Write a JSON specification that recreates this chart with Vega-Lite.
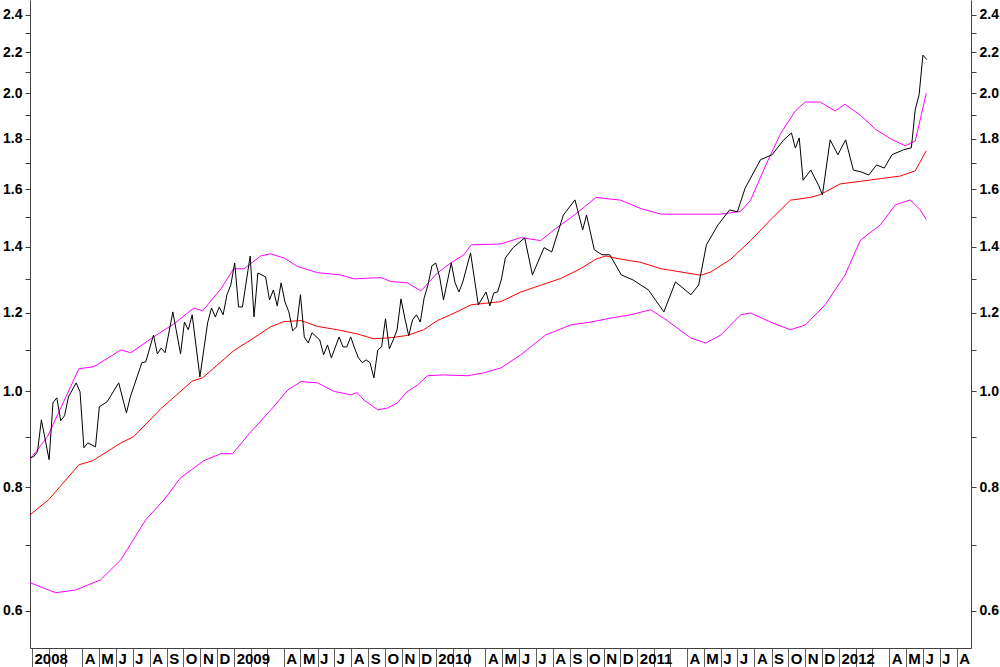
{
"$schema": "https://vega.github.io/schema/vega-lite/v6.json",
"width": 941, "height": 648,
"autosize": "none",
"padding": {"left": 30, "top": 0, "right": 29, "bottom": 19},
"background": "#ffffff",
"config": {"view": {"stroke": null}, "axis": {"grid": false, "title": null, "labelFont": "Liberation Sans", "labelFontWeight": "bold", "labelColor": "#000000", "domainColor": "#404040", "tickColor": "#404040"}},
"datasets": {
"bands": [
{"d":"2007-12-28","s":"up","v":0.853},{"d":"2008-01-29","s":"up","v":0.900},{"d":"2008-02-22","s":"up","v":0.962},{"d":"2008-03-26","s":"up","v":1.054},{"d":"2008-04-22","s":"up","v":1.059},{"d":"2008-06-10","s":"up","v":1.101},{"d":"2008-06-28","s":"up","v":1.094},{"d":"2008-08-08","s":"up","v":1.135},{"d":"2008-09-14","s":"up","v":1.170},{"d":"2008-10-20","s":"up","v":1.214},{"d":"2008-11-05","s":"up","v":1.206},{"d":"2008-12-08","s":"up","v":1.269},{"d":"2008-12-31","s":"up","v":1.330},{"d":"2009-01-19","s":"up","v":1.330},{"d":"2009-02-18","s":"up","v":1.370},{"d":"2009-03-08","s":"up","v":1.377},{"d":"2009-04-01","s":"up","v":1.364},{"d":"2009-04-26","s":"up","v":1.337},{"d":"2009-06-01","s":"up","v":1.318},{"d":"2009-07-13","s":"up","v":1.311},{"d":"2009-08-06","s":"up","v":1.299},{"d":"2009-09-24","s":"up","v":1.303},{"d":"2009-10-12","s":"up","v":1.291},{"d":"2009-11-11","s":"up","v":1.287},{"d":"2009-12-05","s":"up","v":1.263},{"d":"2010-01-04","s":"up","v":1.317},{"d":"2010-01-28","s":"up","v":1.348},{"d":"2010-02-21","s":"up","v":1.374},{"d":"2010-03-06","s":"up","v":1.406},{"d":"2010-04-29","s":"up","v":1.409},{"d":"2010-06-04","s":"up","v":1.43},{"d":"2010-07-10","s":"up","v":1.42},{"d":"2010-08-06","s":"up","v":1.46},{"d":"2010-09-11","s":"up","v":1.51},{"d":"2010-10-18","s":"up","v":1.57},{"d":"2010-12-02","s":"up","v":1.56},{"d":"2011-01-07","s":"up","v":1.53},{"d":"2011-02-13","s":"up","v":1.51},{"d":"2011-03-21","s":"up","v":1.51},{"d":"2011-04-26","s":"up","v":1.51},{"d":"2011-06-01","s":"up","v":1.51},{"d":"2011-07-07","s":"up","v":1.52},{"d":"2011-07-25","s":"up","v":1.56},{"d":"2011-08-21","s":"up","v":1.69},{"d":"2011-09-17","s":"up","v":1.82},{"d":"2011-10-14","s":"up","v":1.92},{"d":"2011-11-01","s":"up","v":1.96},{"d":"2011-11-28","s":"up","v":1.96},{"d":"2011-12-25","s":"up","v":1.92},{"d":"2012-01-12","s":"up","v":1.95},{"d":"2012-02-09","s":"up","v":1.90},{"d":"2012-03-07","s":"up","v":1.84},{"d":"2012-04-03","s":"up","v":1.80},{"d":"2012-04-30","s":"up","v":1.77},{"d":"2012-05-18","s":"up","v":1.79},{"d":"2012-06-07","s":"up","v":2.0},
{"d":"2007-12-28","s":"ma","v":0.750},{"d":"2008-01-31","s":"ma","v":0.777},{"d":"2008-03-26","s":"ma","v":0.843},{"d":"2008-04-20","s":"ma","v":0.851},{"d":"2008-06-10","s":"ma","v":0.887},{"d":"2008-07-03","s":"ma","v":0.900},{"d":"2008-08-21","s":"ma","v":0.960},{"d":"2008-10-17","s":"ma","v":1.024},{"d":"2008-11-05","s":"ma","v":1.032},{"d":"2008-12-31","s":"ma","v":1.099},{"d":"2009-01-31","s":"ma","v":1.127},{"d":"2009-03-08","s":"ma","v":1.162},{"d":"2009-04-01","s":"ma","v":1.176},{"d":"2009-05-02","s":"ma","v":1.179},{"d":"2009-06-01","s":"ma","v":1.163},{"d":"2009-07-07","s":"ma","v":1.154},{"d":"2009-08-12","s":"ma","v":1.143},{"d":"2009-09-11","s":"ma","v":1.130},{"d":"2009-10-12","s":"ma","v":1.133},{"d":"2009-11-11","s":"ma","v":1.139},{"d":"2009-12-10","s":"ma","v":1.154},{"d":"2010-01-04","s":"ma","v":1.179},{"d":"2010-01-28","s":"ma","v":1.195},{"d":"2010-03-06","s":"ma","v":1.223},{"d":"2010-04-29","s":"ma","v":1.232},{"d":"2010-06-04","s":"ma","v":1.26},{"d":"2010-07-10","s":"ma","v":1.28},{"d":"2010-08-15","s":"ma","v":1.30},{"d":"2010-09-20","s":"ma","v":1.33},{"d":"2010-10-18","s":"ma","v":1.36},{"d":"2010-11-05","s":"ma","v":1.37},{"d":"2010-12-02","s":"ma","v":1.36},{"d":"2011-01-07","s":"ma","v":1.35},{"d":"2011-02-13","s":"ma","v":1.33},{"d":"2011-03-21","s":"ma","v":1.32},{"d":"2011-04-26","s":"ma","v":1.31},{"d":"2011-05-14","s":"ma","v":1.32},{"d":"2011-06-19","s":"ma","v":1.36},{"d":"2011-07-25","s":"ma","v":1.42},{"d":"2011-08-30","s":"ma","v":1.49},{"d":"2011-10-05","s":"ma","v":1.56},{"d":"2011-11-10","s":"ma","v":1.57},{"d":"2011-11-28","s":"ma","v":1.58},{"d":"2012-01-03","s":"ma","v":1.62},{"d":"2012-02-09","s":"ma","v":1.63},{"d":"2012-03-16","s":"ma","v":1.64},{"d":"2012-04-21","s":"ma","v":1.65},{"d":"2012-05-18","s":"ma","v":1.67},{"d":"2012-06-07","s":"ma","v":1.75},
{"d":"2007-12-28","s":"lo","v":0.641},{"d":"2008-02-13","s":"lo","v":0.626},{"d":"2008-03-20","s":"lo","v":0.630},{"d":"2008-05-04","s":"lo","v":0.645},{"d":"2008-06-10","s":"lo","v":0.676},{"d":"2008-07-25","s":"lo","v":0.742},{"d":"2008-08-27","s":"lo","v":0.777},{"d":"2008-09-26","s":"lo","v":0.818},{"d":"2008-11-07","s":"lo","v":0.851},{"d":"2008-12-08","s":"lo","v":0.865},{"d":"2008-12-29","s":"lo","v":0.865},{"d":"2009-01-31","s":"lo","v":0.910},{"d":"2009-03-08","s":"lo","v":0.957},{"d":"2009-04-08","s":"lo","v":1.003},{"d":"2009-05-02","s":"lo","v":1.023},{"d":"2009-06-01","s":"lo","v":1.020},{"d":"2009-07-01","s":"lo","v":1.000},{"d":"2009-07-31","s":"lo","v":0.992},{"d":"2009-08-12","s":"lo","v":0.997},{"d":"2009-08-24","s":"lo","v":0.980},{"d":"2009-09-18","s":"lo","v":0.958},{"d":"2009-10-06","s":"lo","v":0.962},{"d":"2009-10-24","s":"lo","v":0.974},{"d":"2009-11-08","s":"lo","v":0.997},{"d":"2009-11-29","s":"lo","v":1.015},{"d":"2009-12-17","s":"lo","v":1.037},{"d":"2010-01-15","s":"lo","v":1.039},{"d":"2010-02-28","s":"lo","v":1.037},{"d":"2010-03-29","s":"lo","v":1.044},{"d":"2010-04-29","s":"lo","v":1.056},{"d":"2010-06-04","s":"lo","v":1.089},{"d":"2010-07-19","s":"lo","v":1.140},{"d":"2010-09-02","s":"lo","v":1.167},{"d":"2010-10-09","s":"lo","v":1.175},{"d":"2010-11-14","s":"lo","v":1.186},{"d":"2010-12-20","s":"lo","v":1.195},{"d":"2011-01-25","s":"lo","v":1.209},{"d":"2011-02-22","s":"lo","v":1.181},{"d":"2011-04-08","s":"lo","v":1.132},{"d":"2011-05-05","s":"lo","v":1.119},{"d":"2011-06-01","s":"lo","v":1.140},{"d":"2011-07-07","s":"lo","v":1.195},{"d":"2011-07-25","s":"lo","v":1.200},{"d":"2011-08-30","s":"lo","v":1.175},{"d":"2011-10-05","s":"lo","v":1.154},{"d":"2011-11-01","s":"lo","v":1.167},{"d":"2011-12-07","s":"lo","v":1.223},{"d":"2012-01-12","s":"lo","v":1.311},{"d":"2012-02-09","s":"lo","v":1.422},{"d":"2012-03-16","s":"lo","v":1.473},{"d":"2012-04-12","s":"lo","v":1.543},{"d":"2012-05-09","s":"lo","v":1.561},{"d":"2012-05-27","s":"lo","v":1.525},{"d":"2012-06-07","s":"lo","v":1.491}
],
"price": [
{"d":"2007-12-28","v":0.857},{"d":"2008-01-04","v":0.859},{"d":"2008-01-11","v":0.869},{"d":"2008-01-18","v":0.936},{"d":"2008-02-01","v":0.853},{"d":"2008-02-08","v":0.974},{"d":"2008-02-15","v":0.985},{"d":"2008-02-22","v":0.934},{"d":"2008-02-29","v":0.945},{"d":"2008-03-07","v":0.987},{"d":"2008-03-21","v":1.020},{"d":"2008-03-28","v":0.999},{"d":"2008-04-04","v":0.877},{"d":"2008-04-11","v":0.887},{"d":"2008-04-25","v":0.879},{"d":"2008-05-02","v":0.965},{"d":"2008-05-16","v":0.976},{"d":"2008-06-06","v":1.020},{"d":"2008-06-20","v":0.951},{"d":"2008-06-27","v":0.987},{"d":"2008-07-18","v":1.069},{"d":"2008-07-25","v":1.071},{"d":"2008-08-08","v":1.140},{"d":"2008-08-15","v":1.091},{"d":"2008-08-22","v":1.106},{"d":"2008-08-29","v":1.094},{"d":"2008-09-12","v":1.203},{"d":"2008-09-26","v":1.091},{"d":"2008-10-03","v":1.175},{"d":"2008-10-10","v":1.154},{"d":"2008-10-17","v":1.195},{"d":"2008-10-31","v":1.034},{"d":"2008-11-14","v":1.173},{"d":"2008-11-21","v":1.214},{"d":"2008-11-28","v":1.189},{"d":"2008-12-05","v":1.217},{"d":"2008-12-12","v":1.195},{"d":"2008-12-19","v":1.252},{"d":"2008-12-26","v":1.281},{"d":"2009-01-02","v":1.348},{"d":"2009-01-09","v":1.217},{"d":"2009-01-16","v":1.217},{"d":"2009-01-30","v":1.370},{"d":"2009-02-06","v":1.189},{"d":"2009-02-13","v":1.317},{"d":"2009-02-27","v":1.305},{"d":"2009-03-06","v":1.237},{"d":"2009-03-13","v":1.266},{"d":"2009-03-20","v":1.220},{"d":"2009-03-27","v":1.287},{"d":"2009-04-03","v":1.231},{"d":"2009-04-10","v":1.203},{"d":"2009-04-17","v":1.151},{"d":"2009-04-24","v":1.162},{"d":"2009-05-01","v":1.252},{"d":"2009-05-08","v":1.135},{"d":"2009-05-15","v":1.119},{"d":"2009-05-22","v":1.146},{"d":"2009-06-05","v":1.127},{"d":"2009-06-12","v":1.089},{"d":"2009-06-19","v":1.114},{"d":"2009-06-26","v":1.081},{"d":"2009-07-10","v":1.135},{"d":"2009-07-17","v":1.109},{"d":"2009-07-24","v":1.109},{"d":"2009-07-31","v":1.135},{"d":"2009-08-07","v":1.106},{"d":"2009-08-14","v":1.081},{"d":"2009-08-21","v":1.069},{"d":"2009-08-28","v":1.076},{"d":"2009-09-04","v":1.069},{"d":"2009-09-11","v":1.032},{"d":"2009-09-18","v":1.101},{"d":"2009-09-25","v":1.109},{"d":"2009-10-02","v":1.184},{"d":"2009-10-09","v":1.104},{"d":"2009-10-16","v":1.127},{"d":"2009-10-23","v":1.154},{"d":"2009-10-30","v":1.240},{"d":"2009-11-06","v":1.186},{"d":"2009-11-13","v":1.138},{"d":"2009-11-20","v":1.181},{"d":"2009-11-27","v":1.195},{"d":"2009-12-04","v":1.175},{"d":"2009-12-11","v":1.243},{"d":"2009-12-18","v":1.281},{"d":"2009-12-25","v":1.339},{"d":"2010-01-01","v":1.348},{"d":"2010-01-08","v":1.305},{"d":"2010-01-15","v":1.237},{"d":"2010-01-29","v":1.348},{"d":"2010-02-05","v":1.287},{"d":"2010-02-12","v":1.260},{"d":"2010-02-19","v":1.290},{"d":"2010-03-05","v":1.380},{"d":"2010-03-19","v":1.223},{"d":"2010-04-02","v":1.260},{"d":"2010-04-09","v":1.220},{"d":"2010-04-16","v":1.257},{"d":"2010-04-23","v":1.260},{"d":"2010-04-30","v":1.299},{"d":"2010-05-07","v":1.364},{"d":"2010-05-21","v":1.397},{"d":"2010-06-11","v":1.429},{"d":"2010-06-25","v":1.311},{"d":"2010-07-16","v":1.397},{"d":"2010-07-30","v":1.383},{"d":"2010-08-20","v":1.507},{"d":"2010-09-10","v":1.561},{"d":"2010-09-24","v":1.456},{"d":"2010-10-01","v":1.507},{"d":"2010-10-15","v":1.390},{"d":"2010-10-29","v":1.374},{"d":"2010-11-12","v":1.374},{"d":"2010-12-03","v":1.311},{"d":"2010-12-24","v":1.296},{"d":"2011-01-21","v":1.266},{"d":"2011-02-18","v":1.203},{"d":"2011-03-11","v":1.290},{"d":"2011-04-08","v":1.252},{"d":"2011-04-22","v":1.281},{"d":"2011-05-06","v":1.406},{"d":"2011-05-27","v":1.473},{"d":"2011-06-17","v":1.525},{"d":"2011-07-01","v":1.518},{"d":"2011-07-15","v":1.604},{"d":"2011-08-12","v":1.714},{"d":"2011-09-02","v":1.734},{"d":"2011-09-23","v":1.795},{"d":"2011-10-07","v":1.824},{"d":"2011-10-14","v":1.761},{"d":"2011-10-21","v":1.803},{"d":"2011-10-28","v":1.634},{"d":"2011-11-11","v":1.673},{"d":"2011-11-25","v":1.615},{"d":"2011-12-02","v":1.579},{"d":"2011-12-16","v":1.795},{"d":"2011-12-30","v":1.734},{"d":"2012-01-13","v":1.795},{"d":"2012-01-27","v":1.673},{"d":"2012-02-10","v":1.666},{"d":"2012-02-24","v":1.654},{"d":"2012-03-09","v":1.693},{"d":"2012-03-23","v":1.681},{"d":"2012-04-06","v":1.734},{"d":"2012-04-27","v":1.754},{"d":"2012-05-11","v":1.762},{"d":"2012-05-18","v":1.925},{"d":"2012-05-25","v":1.993},{"d":"2012-06-01","v":2.186},{"d":"2012-06-08","v":2.163}
]
},
"layer": [
{
"data": {"name": "bands"},
"mark": {"type": "line", "strokeWidth": 1, "clip": true},
"encoding": {
"x": {"field": "d", "type": "temporal",
  "scale": {"type": "utc", "domain": [{"year": 2007, "month": 12, "date": 28, "hours": 10, "utc": true}, {"year": 2012, "month": 8, "date": 27, "utc": true}]},
  "axis": {"orient": "bottom", "tickCount": {"interval": "month", "step": 1}, "tickSize": 19, "tickColor": "#606060", "labelAlign": "left", "labelBaseline": "top", "labelPadding": -16, "labelOffset": 2, "labelFontSize": 15, "labelOverlap": false, "labelBound": false, "labelFlush": false,
  "labelExpr": "utcmonth(datum.value) == 0 ? utcFormat(datum.value, '%Y') : (utcmonth(datum.value) < 3 ? '' : substring(utcFormat(datum.value, '%b'), 0, 1))"}},
"y": {"field": "v", "type": "quantitative",
  "scale": {"type": "log", "domain": [0.5505, 2.485], "nice": false, "zero": false},
  "axis": {"orient": "left", "values": [0.6,0.7,0.8,0.9,1.0,1.1,1.2,1.3,1.4,1.5,1.6,1.7,1.8,1.9,2.0,2.1,2.2,2.3,2.4], "tickSize": 5, "labelPadding": 3, "labelFontSize": 14, "labelExpr": "round(datum.value*10) % 2 == 0 ? format(datum.value, '.1f') : ''"}},
"color": {"field": "s", "type": "nominal", "scale": {"domain": ["up", "ma", "lo"], "range": ["#ff00ff", "#ff0000", "#ff00ff"]}, "legend": null}
}
},
{
"data": {"name": "price"},
"mark": {"type": "line", "strokeWidth": 1, "color": "#000000", "clip": true},
"encoding": {
"x": {"field": "d", "type": "temporal",
  "scale": {"type": "utc", "domain": [{"year": 2007, "month": 12, "date": 28, "hours": 10, "utc": true}, {"year": 2012, "month": 8, "date": 27, "utc": true}]},
  "axis": {"orient": "bottom", "tickCount": {"interval": "month", "step": 1}, "tickSize": 19, "tickColor": "#606060", "labelAlign": "left", "labelBaseline": "top", "labelPadding": -16, "labelOffset": 2, "labelFontSize": 15, "labelOverlap": false, "labelBound": false, "labelFlush": false,
  "labelExpr": "utcmonth(datum.value) == 0 ? utcFormat(datum.value, '%Y') : (utcmonth(datum.value) < 3 ? '' : substring(utcFormat(datum.value, '%b'), 0, 1))"}},
"y": {"field": "v", "type": "quantitative",
  "scale": {"type": "log", "domain": [0.5505, 2.485], "nice": false, "zero": false},
  "axis": {"orient": "right", "values": [0.6,0.7,0.8,0.9,1.0,1.1,1.2,1.3,1.4,1.5,1.6,1.7,1.8,1.9,2.0,2.1,2.2,2.3,2.4], "tickSize": 5, "labelPadding": 3, "labelFontSize": 14, "labelExpr": "round(datum.value*10) % 2 == 0 ? format(datum.value, '.1f') : ''"}}
}
}
],
"resolve": {"scale": {"y": "independent"}, "axis": {"y": "independent"}}
}
